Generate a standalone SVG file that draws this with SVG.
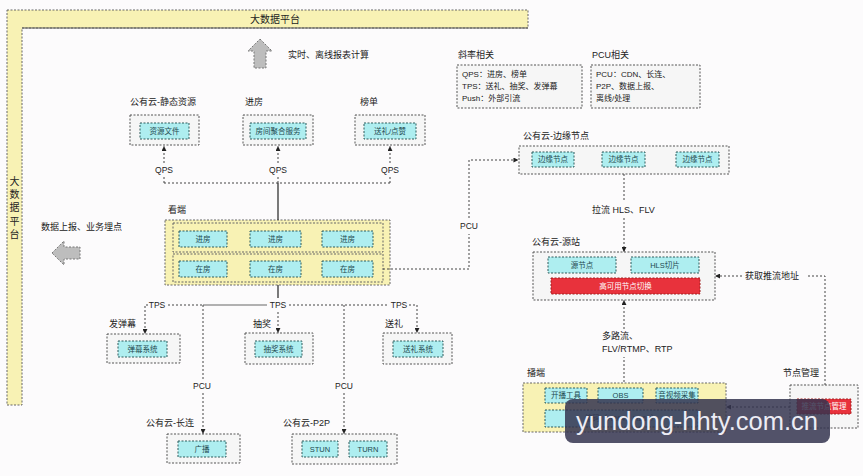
<svg xmlns="http://www.w3.org/2000/svg" width="863" height="476" viewBox="0 0 863 476">
<defs>
<marker id="ah" viewBox="0 0 6 6" refX="5.5" refY="3" markerWidth="5" markerHeight="5" orient="auto" markerUnits="userSpaceOnUse"><path d="M0,0 L6,3 L0,6 z" fill="#222"/></marker>
</defs>
<style>
text{font-family:"Liberation Sans","Noto Sans CJK SC",sans-serif;fill:#222;dominant-baseline:central}
.lbl{font-size:9px}
.qp{font-size:8.5px;text-anchor:middle}
.lg{font-size:8px}
.sm{font-size:7.5px;text-anchor:middle;fill:#1e4a50}
.wt{font-size:7.5px;text-anchor:middle;fill:#fff}
.grp{fill:#f6f6f6;stroke:#555;stroke-dasharray:2 1.5;stroke-width:1}
.cy{fill:#aeeef0;stroke:#2d5a5a;stroke-dasharray:2 1.5;stroke-width:1}
.yl{fill:#f8f2b4;stroke:#666;stroke-dasharray:2 1.5;stroke-width:1}
.red{fill:#e8323c;stroke:#a02020;stroke-dasharray:2 1.5;stroke-width:1}
.c{fill:none;stroke:#444;stroke-width:1;stroke-dasharray:2 2}
.s{fill:none;stroke:#333;stroke-width:1.3}
.arw{fill:#bdbdbd;stroke:#777;stroke-width:1;stroke-dasharray:2 1.5}
</style>
<rect x="0" y="0" width="863" height="476" fill="#fcfbfc"/>

<g id="platform">
<path d="M7,10 H528 V28 H22 V405 H7 Z" class="yl"/>
<line x1="22" y1="28" x2="528" y2="28" stroke="#555" stroke-width="1.2"/>
<text x="275" y="19.5" text-anchor="middle" font-size="10">大数据平台</text>
<text x="14.5" y="181" text-anchor="middle" font-size="10">大</text>
<text x="14.5" y="194" text-anchor="middle" font-size="10">数</text>
<text x="14.5" y="207" text-anchor="middle" font-size="10">据</text>
<text x="14.5" y="221" text-anchor="middle" font-size="10">平</text>
<text x="14.5" y="234" text-anchor="middle" font-size="10">台</text>
</g>

<g id="report-up">
<polygon points="260,39 272,51 266,51 266,68 254,68 254,51 248,51" class="arw"/>
<text x="288" y="55" class="lbl">实时、离线报表计算</text>
</g>
<g id="report-left">
<polygon points="52,253 64,241 64,247 80,247 80,259 64,259 64,265" class="arw"/>
<text x="41" y="227" class="lbl">数据上报、业务埋点</text>
</g>

<g id="legend-slope">
<text x="458" y="55" class="lbl">斜率相关</text>
<rect x="457" y="65" width="125" height="43" class="grp"/>
<text x="462" y="74" class="lg">QPS：进房、榜单</text>
<text x="462" y="86" class="lg">TPS：送礼、抽奖、发弹幕</text>
<text x="462" y="98" class="lg">Push：外部引流</text>
</g>
<g id="legend-pcu">
<text x="592" y="55" class="lbl">PCU相关</text>
<rect x="591" y="65" width="109" height="43" class="grp"/>
<text x="596" y="74" class="lg">PCU：CDN、长连、</text>
<text x="596" y="86" class="lg">P2P、数据上报、</text>
<text x="596" y="98" class="lg">离线/处理</text>
</g>

<g id="static-res">
<text x="130" y="102" class="lbl">公有云-静态资源</text>
<rect x="130" y="115" width="69" height="30" class="grp"/>
<rect x="140" y="123" width="49" height="16" class="cy"/>
<text x="164.5" y="131" class="sm">资源文件</text>
</g>
<g id="enter-room">
<text x="245" y="102" class="lbl">进房</text>
<rect x="243" y="115" width="70" height="30" class="grp"/>
<rect x="250" y="123" width="56" height="16" class="cy"/>
<text x="278" y="131" class="sm">房间聚合服务</text>
</g>
<g id="ranking">
<text x="360" y="102" class="lbl">榜单</text>
<rect x="355" y="115" width="70" height="30" class="grp"/>
<rect x="364" y="123" width="52" height="16" class="cy"/>
<text x="390" y="131" class="sm">送礼/点赞</text>
</g>

<g id="viewer">
<text x="168" y="210" class="lbl">看端</text>
<rect x="165" y="220" width="225" height="65" class="yl"/>
<rect x="173" y="223" width="210" height="29" class="yl"/>
<rect x="173" y="254" width="210" height="28" class="yl"/>
<rect x="179" y="231" width="48" height="16" class="cy"/><text x="203" y="239" class="sm">进房</text>
<rect x="250" y="231" width="51" height="16" class="cy"/><text x="275.5" y="239" class="sm">进房</text>
<rect x="322" y="231" width="51" height="16" class="cy"/><text x="347.5" y="239" class="sm">进房</text>
<rect x="179" y="261" width="48" height="16" class="cy"/><text x="203" y="269" class="sm">在房</text>
<rect x="250" y="261" width="51" height="16" class="cy"/><text x="275.5" y="269" class="sm">在房</text>
<rect x="322" y="261" width="51" height="16" class="cy"/><text x="347.5" y="269" class="sm">在房</text>
</g>

<g id="danmaku">
<text x="109" y="324" class="lbl">发弹幕</text>
<rect x="107" y="334" width="73" height="29" class="grp"/>
<rect x="118" y="341" width="49" height="16" class="cy"/>
<text x="142.5" y="349" class="sm">弹幕系统</text>
</g>
<g id="lottery">
<text x="253" y="324" class="lbl">抽奖</text>
<rect x="245" y="333" width="68" height="31" class="grp"/>
<rect x="255" y="341" width="47" height="16" class="cy"/>
<text x="278.5" y="349" class="sm">抽奖系统</text>
</g>
<g id="gift">
<text x="385" y="324" class="lbl">送礼</text>
<rect x="383" y="333" width="69" height="31" class="grp"/>
<rect x="393" y="341" width="50" height="16" class="cy"/>
<text x="418" y="349" class="sm">送礼系统</text>
</g>
<g id="long-conn">
<text x="146" y="423" class="lbl">公有云-长连</text>
<rect x="167" y="434" width="73" height="29" class="grp"/>
<rect x="178" y="441" width="48" height="16" class="cy"/>
<text x="202" y="449" class="sm">广播</text>
</g>
<g id="p2p">
<text x="283" y="423" class="lbl">公有云-P2P</text>
<rect x="292" y="434" width="105" height="30" class="grp"/>
<rect x="302" y="441" width="36" height="16" class="cy"/><text x="320" y="449" class="sm">STUN</text>
<rect x="349" y="441" width="38" height="16" class="cy"/><text x="368" y="449" class="sm">TURN</text>
</g>

<g id="edge">
<text x="523" y="136" class="lbl">公有云-边缘节点</text>
<rect x="519" y="146" width="210" height="28" class="grp"/>
<rect x="532" y="152" width="42" height="15" class="cy"/><text x="553" y="159.5" class="sm">边缘节点</text>
<rect x="602" y="152" width="43" height="15" class="cy"/><text x="623.5" y="159.5" class="sm">边缘节点</text>
<rect x="676" y="152" width="43" height="15" class="cy"/><text x="697.5" y="159.5" class="sm">边缘节点</text>
</g>
<g id="origin">
<text x="532" y="242" class="lbl">公有云-源站</text>
<rect x="533" y="252" width="182" height="48" class="grp"/>
<rect x="548" y="257" width="68" height="16" class="cy"/><text x="582" y="265" class="sm">源节点</text>
<rect x="631" y="257" width="68" height="16" class="cy"/><text x="665" y="265" class="sm">HLS切片</text>
<rect x="551" y="278" width="149" height="16" class="red"/><text x="625.5" y="286" class="wt">高可用节点切换</text>
</g>
<g id="broadcaster">
<text x="527" y="373" class="lbl">播端</text>
<rect x="523" y="383" width="203" height="49" class="yl"/>
<rect x="545" y="388" width="42" height="15" class="cy"/><text x="566" y="395.5" class="sm">开播工具</text>
<rect x="598" y="388" width="45" height="15" class="cy"/><text x="620.5" y="395.5" class="sm">OBS</text>
<rect x="656" y="388" width="42" height="15" class="cy"/><text x="677" y="395.5" class="sm">音视频采集</text>
<rect x="545" y="410" width="153" height="17" class="cy"/><text x="621.5" y="418.5" class="sm">编码（H264、H265）</text>
</g>
<g id="node-mgmt">
<text x="783" y="373" class="lbl">节点管理</text>
<rect x="790" y="385" width="68" height="43" class="grp"/>
<rect x="797" y="399" width="54" height="15" class="red"/><text x="824" y="406.5" class="wt">推流节点管理</text>
</g>

<g id="connectors">
<path d="M164,183 V177 M164,163 V146.5" class="c" marker-end="url(#ah)"/>
<path d="M278,183 V177 M278,163 V146.5" class="c" marker-end="url(#ah)"/>
<path d="M390,183 V177 M390,163 V146.5" class="c" marker-end="url(#ah)"/>
<path d="M164,183 H390" class="c"/>
<path d="M278,183 V220" class="s"/>
<text x="164" y="170" class="qp">QPS</text>
<text x="278" y="170" class="qp">QPS</text>
<text x="390" y="170" class="qp">QPS</text>

<path d="M383,269 H469 V234" class="c"/>
<path d="M469,218 V160 H518" class="c" marker-end="url(#ah)"/>
<text x="469" y="226" class="qp">PCU</text>

<path d="M278,285 V298" class="s"/>
<path d="M168,305 H203" class="c"/>
<path d="M203,305 H267" fill="none" stroke="#666" stroke-width="1"/>
<path d="M289,305 H389" class="c"/>
<path d="M148,305 H145 V333.5" class="c" marker-end="url(#ah)"/>
<path d="M278,312 V332.5" class="c" marker-end="url(#ah)"/>
<path d="M409,305 H417 V332.5" class="c" marker-end="url(#ah)"/>
<text x="157" y="305" class="qp">TPS</text>
<text x="278" y="305" class="qp">TPS</text>
<text x="399" y="305" class="qp">TPS</text>
<path d="M203,305 V379 M203,393 V433.5" class="c" marker-end="url(#ah)"/>
<path d="M344,305 V379 M344,393 V433.5" class="c" marker-end="url(#ah)"/>
<text x="202" y="386" class="qp">PCU</text>
<text x="344" y="386" class="qp">PCU</text>

<path d="M624,174 V202 M624,218 V251.5" class="c" marker-end="url(#ah)"/>
<text x="592" y="210" class="lbl">拉流 HLS、FLV</text>
<path d="M624,382 V357 M624,329 V300.5" class="c" marker-end="url(#ah)"/>
<text x="602" y="336" class="lbl">多路流、</text>
<text x="602" y="349" class="lbl">FLV/RTMP、RTP</text>
<path d="M825,385 V276 H806" class="c"/>
<path d="M742,276 H715.5" class="c" marker-end="url(#ah)"/>
<text x="745" y="276" class="lbl">获取推流地址</text>
<path d="M790,407 H726.5" class="c" marker-end="url(#ah)"/>
</g>

<g id="watermark">
<rect x="565" y="399" width="265" height="44" rx="8" fill="#34344f" fill-opacity="0.85"/>
<text x="697" y="421" text-anchor="middle" font-family="Open Sans, DejaVu Sans, sans-serif" font-size="26" textLength="242" lengthAdjust="spacingAndGlyphs" style="fill:#ececf4">yundong-hhty.com.cn</text>
</g>
</svg>
